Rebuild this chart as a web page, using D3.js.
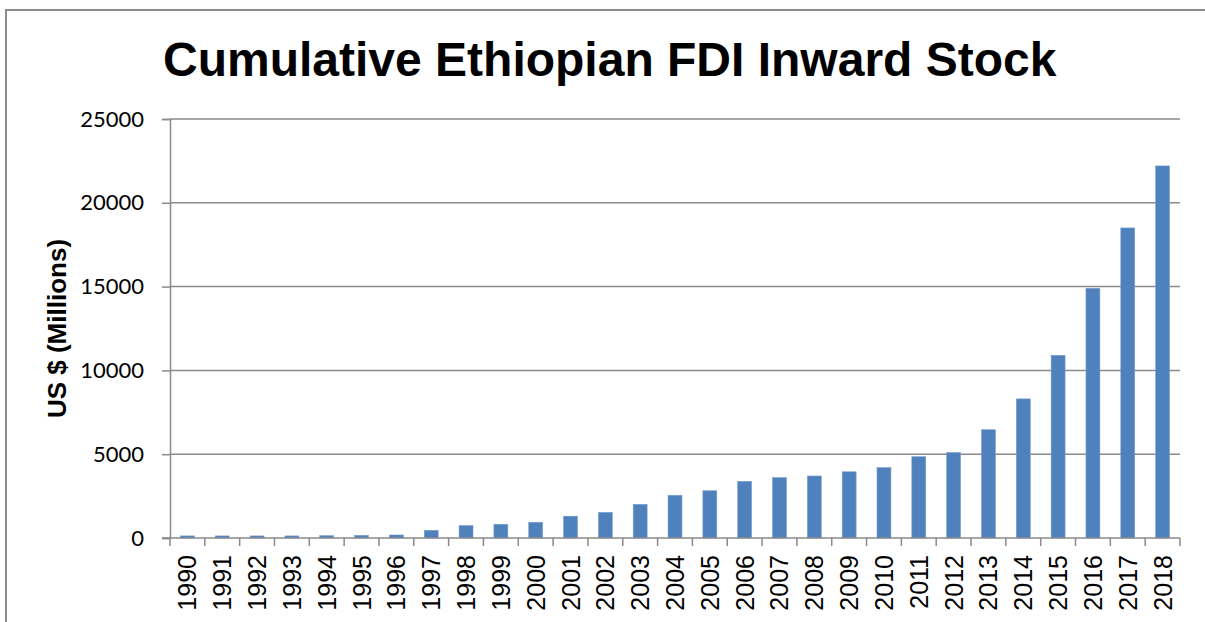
<!DOCTYPE html>
<html>
<head>
<meta charset="utf-8">
<script src="https://cdn.jsdelivr.net/npm/d3@7/dist/d3.min.js"></script>
<style>
  html, body { margin: 0; padding: 0; background: #fff; }
  svg { display: block; }
</style>
</head>
<body>
<svg id="chart" width="1205" height="622"></svg>
<script>
// Ethiopian FDI inward stock, US$ millions, 1990–2018
const years = ["1990","1991","1992","1993","1994","1995","1996","1997","1998","1999",
               "2000","2001","2002","2003","2004","2005","2006","2007","2008","2009",
               "2010","2011","2012","2013","2014","2015","2016","2017","2018"];
const stock = [125, 125, 125, 125, 140, 160, 180, 460, 740, 820,
               940, 1300, 1530, 2010, 2550, 2820, 3380, 3600, 3700, 3950,
               4200, 4850, 5100, 6460, 8300, 10900, 14900, 18500, 22200];
const yTicks = [0, 5000, 10000, 15000, 20000, 25000];

const titleText = "Cumulative Ethiopian FDI Inward Stock";
const yTitleText = "US $ (Millions)";

const svg = d3.select("#chart");
const plot = { left: 170, right: 1180, top: 119, bottom: 538 };
const gridColor = "#8a8a8a";

// outer frame of the chart area
svg.append("rect")
  .attr("x", 6).attr("y", 10)
  .attr("width", 1240).attr("height", 660)
  .attr("fill", "none")
  .attr("stroke", "#8c8c8c")
  .attr("stroke-width", 2);

const x = d3.scaleBand()
  .domain(years)
  .range([plot.left, plot.right])
  .paddingInner(0.6)
  .paddingOuter(0.3);

const y = d3.scaleLinear()
  .domain([0, 25000])
  .range([plot.bottom, plot.top]);

// horizontal gridlines
svg.append("g")
  .selectAll("line")
  .data(yTicks.filter(d => d > 0))
  .join("line")
  .attr("x1", plot.left).attr("x2", plot.right)
  .attr("y1", d => y(d)).attr("y2", d => y(d))
  .attr("stroke", gridColor)
  .attr("stroke-width", 1.5);

// y axis
const yAxis = svg.append("g")
  .attr("transform", `translate(${plot.left},0)`)
  .call(d3.axisLeft(y).tickValues(yTicks).tickSize(8).tickPadding(18).tickFormat(d => String(d)));
yAxis.select(".domain").attr("stroke", gridColor).attr("stroke-width", 1.5);
yAxis.selectAll(".tick line").attr("stroke", gridColor).attr("stroke-width", 1.5);
yAxis.selectAll(".tick text")
  .attr("font-family", "Lato, 'Open Sans', sans-serif")
  .attr("font-size", 22)
  .attr("fill", "#000");

// bars
svg.append("g")
  .selectAll("rect")
  .data(years.map((yr, i) => ({ yr, v: stock[i] })))
  .join("rect")
  .attr("x", d => x(d.yr))
  .attr("width", x.bandwidth())
  .attr("y", d => y(d.v))
  .attr("height", d => y(0) - y(d.v))
  .attr("fill", "#4f81bd")
  .attr("stroke", "#7a9fd0")
  .attr("stroke-width", 0.6);

// x axis baseline and category boundary ticks
svg.append("line")
  .attr("x1", plot.left - 8).attr("x2", plot.right)
  .attr("y1", y(0)).attr("y2", y(0))
  .attr("stroke", gridColor).attr("stroke-width", 1.5);

const step = x.step();
const boundaries = d3.range(years.length + 1).map(i => x(years[0]) - x.paddingOuter() * step + i * step);
svg.append("g")
  .selectAll("line")
  .data(boundaries)
  .join("line")
  .attr("x1", d => d).attr("x2", d => d)
  .attr("y1", y(0)).attr("y2", y(0) + 8)
  .attr("stroke", gridColor).attr("stroke-width", 1.5);

// rotated year labels
svg.append("g")
  .selectAll("text")
  .data(years)
  .join("text")
  .attr("transform", d => `translate(${x(d) + x.bandwidth() / 2},${y(0) + 17}) rotate(-90)`)
  .attr("text-anchor", "end")
  .attr("dy", "0.36em")
  .attr("font-family", "'Liberation Sans', Arial, sans-serif")
  .attr("font-size", 25)
  .attr("fill", "#000")
  .text(d => d);

// y axis title
svg.append("text")
  .attr("transform", `translate(57,${(238 + 419) / 2}) rotate(-90)`)
  .attr("text-anchor", "middle")
  .attr("dy", "0.36em")
  .attr("font-family", "'Liberation Sans', Arial, sans-serif")
  .attr("font-weight", "bold")
  .attr("font-size", 26)
  .attr("fill", "#000")
  .text(yTitleText);

// chart title
svg.append("text")
  .attr("x", 163)
  .attr("y", 76)
  .attr("font-family", "'Liberation Sans', Arial, sans-serif")
  .attr("font-weight", "bold")
  .attr("font-size", 48)
  .attr("fill", "#000")
  .text(titleText);
</script>
</body>
</html>
